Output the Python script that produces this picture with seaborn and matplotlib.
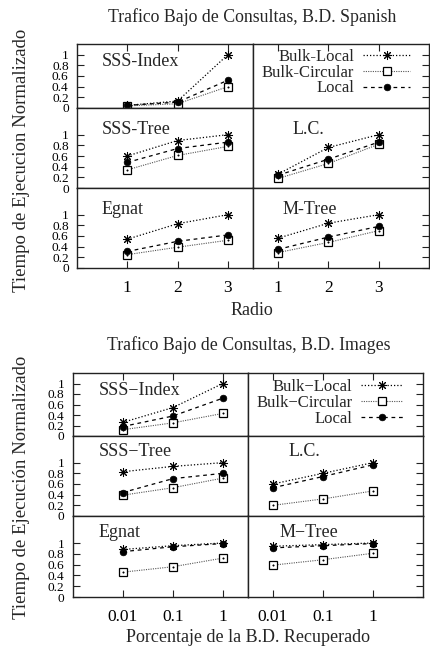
import matplotlib
matplotlib.use("Agg")
import matplotlib.pyplot as plt
import matplotlib.transforms as mtrans
from matplotlib.ticker import NullLocator
import pandas as pd
import seaborn as sns

# ---------------- data ----------------
radio = [1, 2, 3]
radio_labels = ["1", "2", "3"]
porcentaje = [0.01, 0.1, 1]
porcentaje_labels = ["0.01", "0.1", "1"]
y_ticks = [0, 0.2, 0.4, 0.6, 0.8, 1]
y_tick_labels = ["0", "0.2", "0.4", "0.6", "0.8", "1"]

series_sp = ["Bulk-Local", "Bulk-Circular", "Local"]
series_im = ["Bulk\u2212Local", "Bulk\u2212Circular", "Local"]

panels_sp = ["SSS-Index", None, "SSS-Tree", "L.C.", "Egnat", "M-Tree"]
panels_im = ["SSS\u2212Index", None, "SSS\u2212Tree", "L.C.", "Egnat", "M\u2212Tree"]

# Spanish (order: Bulk-Local, Bulk-Circular, Local)
sp_sss_index = [[0.05, 0.13, 1.00], [0.04, 0.08, 0.40], [0.05, 0.11, 0.52]]
sp_sss_tree = [[0.60, 0.89, 1.00], [0.34, 0.61, 0.78], [0.48, 0.74, 0.86]]
sp_lc = [[0.26, 0.76, 1.00], [0.18, 0.46, 0.82], [0.24, 0.54, 0.86]]
sp_egnat = [[0.54, 0.83, 1.00], [0.25, 0.39, 0.52], [0.31, 0.50, 0.62]]
sp_mtree = [[0.56, 0.84, 1.00], [0.29, 0.48, 0.70], [0.35, 0.58, 0.78]]

# Images
im_sss_index = [[0.26, 0.54, 1.00], [0.12, 0.25, 0.43], [0.18, 0.38, 0.72]]
im_sss_tree = [[0.83, 0.93, 1.00], [0.39, 0.53, 0.71], [0.44, 0.70, 0.80]]
im_lc = [[0.60, 0.80, 1.00], [0.20, 0.32, 0.47], [0.53, 0.74, 0.96]]
im_egnat = [[0.88, 0.95, 1.00], [0.46, 0.56, 0.72], [0.84, 0.93, 0.99]]
im_mtree = [[0.94, 0.97, 1.00], [0.59, 0.69, 0.81], [0.91, 0.95, 0.99]]

data_sp = [sp_sss_index, None, sp_sss_tree, sp_lc, sp_egnat, sp_mtree]
data_im = [im_sss_index, None, im_sss_tree, im_lc, im_egnat, im_mtree]

# ---------------- style ----------------
sns.set_style("white")
plt.rcParams["font.family"] = ["Liberation Serif", "DejaVu Serif"]

STY = [
    dict(color="black", linestyle=(0, (1, 1.6)), linewidth=0.9, marker=(8, 2, 0),
         markersize=6.5, mfc="black", mec="black", mew=0.75),
    dict(color="#555555", linestyle=(0, (1, 1.1)), linewidth=0.8, marker="s",
         markersize=5.5, mfc="white", mec="black", mew=0.9),
    dict(color="black", linestyle=(0, (3, 3)), linewidth=0.9, marker="o",
         markersize=4.8, mfc="black", mec="black", mew=0.5),
]
DOT = dict(color="black", linestyle="none", marker="o", markersize=1.2,
           mfc="black", mec="black", mew=0.2)
SPINE = "#222222"

W, H = 430, 647
fig = plt.figure(figsize=(W / 100, H / 100), dpi=100)


def draw_chart(box, ratios, xvals, xlabels, log, panels, data, names,
               label_x, label_y, legend_anchor, handlelen):
    left, right, top, bottom = box
    gs = fig.add_gridspec(3, 2, left=left / W, right=right / W, top=1 - top / H,
                          bottom=1 - bottom / H, height_ratios=ratios,
                          hspace=0, wspace=0)
    first_lines = None
    legend_ax = None
    for i in range(6):
        r, c = divmod(i, 2)
        ax = fig.add_subplot(gs[r, c])
        ax.set_facecolor("white")
        if log:
            ax.set_xscale("log")
            ax.set_xlim((10 ** -3, 10 ** 0.5) if c == 0 else (10 ** -2.5, 10 ** 1))
        else:
            ax.set_xlim((0, 3.5) if c == 0 else (0.5, 4))
        ax.set_ylim(0, 1.2 if r == 0 else 1.5)
        for s in ax.spines.values():
            s.set_color(SPINE)
            s.set_linewidth(1.0)
        if data[i] is not None:
            for k in range(3):
                df = pd.DataFrame({"x": xvals, "y": data[i][k]})
                sns.lineplot(data=df, x="x", y="y", ax=ax, legend=False, **STY[k])
            if first_lines is None:
                first_lines = list(ax.get_lines())[:3]
            df = pd.DataFrame({"x": xvals, "y": data[i][1]})
            sns.lineplot(data=df, x="x", y="y", ax=ax, legend=False, **DOT)
        else:
            legend_ax = ax
        ax.set_xlabel("")
        ax.set_ylabel("")
        # ticks
        ax.set_xticks(xvals)
        ax.set_xticklabels(xlabels)
        ax.xaxis.set_minor_locator(NullLocator())
        ax.set_yticks(y_ticks)
        ax.set_yticklabels(y_tick_labels)
        ax.yaxis.set_minor_locator(NullLocator())
        ax.tick_params(direction="in", length=5, width=0.8, colors=SPINE,
                       labelcolor="black")
        if c == 0:
            ax.tick_params(axis="y", left=True, right=False, labelleft=True,
                           labelright=False, labelsize=9.6, pad=6)
        else:
            ax.tick_params(axis="y", left=False, right=True, labelleft=False,
                           labelright=False)
        if r == 0:
            ax.tick_params(axis="x", top=True, bottom=False, labeltop=False,
                           labelbottom=False)
        elif r == 1:
            ax.tick_params(axis="x", top=False, bottom=False, labeltop=False,
                           labelbottom=False)
        else:
            ax.tick_params(axis="x", top=False, bottom=True, labeltop=False,
                           labelbottom=True, labelsize=12.5, pad=8.5)
        if panels[i] is not None:
            tr = mtrans.blended_transform_factory(ax.transAxes, ax.transData)
            ax.text(label_x[i], label_y[i], panels[i], transform=tr, ha="left",
                    va="center", fontsize=13)
    legend_ax.legend(first_lines, names, loc="upper right",
                     bbox_to_anchor=legend_anchor, frameon=False,
                     markerfirst=False, handlelength=handlelen, handletextpad=0.55,
                     labelspacing=-0.02, borderaxespad=0, borderpad=0,
                     fontsize=12, numpoints=1)


draw_chart((77, 429, 44, 268), [64, 80, 80], radio, radio_labels, False,
           panels_sp, data_sp, series_sp,
           [0.142, 0, 0.142, 0.227, 0.142, 0.17], [0.88, 0, 1.09, 1.09, 1.09, 1.09],
           (0.892, 0.92), 2.8)
draw_chart((72.7, 423, 373, 597), [63, 80, 81], porcentaje, porcentaje_labels, True,
           panels_im, data_im, series_im,
           [0.146, 0, 0.146, 0.232, 0.146, 0.18], [0.87, 0, 1.2, 1.2, 1.2, 1.2],
           (0.886, 0.90), 2.5)

# titles and labels
fig.text(252.5 / W, 1 - 17 / H, "Trafico Bajo de Consultas, B.D. Spanish",
         ha="center", va="center", fontsize=12.8)
fig.text(249 / W, 1 - 345 / H, "Trafico Bajo de Consultas, B.D. Images",
         ha="center", va="center", fontsize=12.8)
fig.text(22 / W, 1 - 160.5 / H, "Tiempo de Ejecucion Normalizado", rotation=90,
         ha="center", va="center", fontsize=13.5)
fig.text(22 / W, 1 - 487.5 / H, "Tiempo de Ejecuci\u00f3n Normalizado", rotation=90,
         ha="center", va="center", fontsize=13.5)
fig.text(252 / W, 1 - 310 / H, "Radio", ha="center", va="center", fontsize=13)
fig.text(247.5 / W, 1 - 638 / H, "Porcentaje de la B.D. Recuperado",
         ha="center", va="center", fontsize=13)

fig.savefig("out.png", dpi=100, facecolor="white")
